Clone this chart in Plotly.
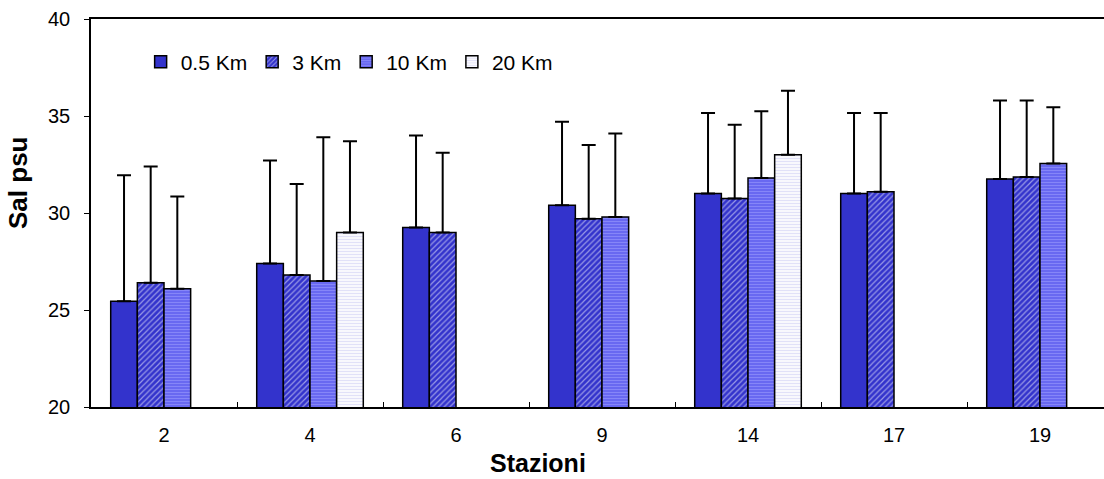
import plotly.graph_objects as go

stations = ["2", "4", "6", "9", "14", "17", "19"]

km05 = [25.45, 27.4, 29.25, 30.4, 31.0, 31.0, 31.75]
km05_err = [6.5, 5.3, 4.75, 4.3, 4.15, 4.15, 4.05]

km3 = [26.4, 26.8, 29.0, 29.7, 30.75, 31.1, 31.85]
km3_err = [6.0, 4.7, 4.1, 3.8, 3.8, 4.05, 3.95]

km10 = [26.1, 26.5, None, 29.8, 31.8, None, 32.55]
km10_err = [4.75, 7.4, 0, 4.3, 3.45, 0, 2.9]

km20 = [None, 29.0, None, None, 33.0, None, None]
km20_err = [0, 4.7, 0, 0, 3.3, 0, 0]

series_names = ["0.5 Km", "3 Km", "10 Km", "20 Km"]

FONT = "Arial, Liberation Sans, sans-serif"

styles = [
    dict(color="#3333CC", pattern=dict(shape="")),
    dict(color="#3333CC", pattern=dict(shape="/", fgcolor="#ffffff", bgcolor="#3333CC",
                                      size=4, solidity=0.3, fillmode="overlay")),
    dict(color="#6262F0", pattern=dict(shape="-", fgcolor="#aaaaff", bgcolor="#6262F0",
                                      size=3, solidity=0.45, fillmode="overlay")),
    dict(color="#ffffff", pattern=dict(shape="-", fgcolor="#c4c4f2", bgcolor="#ffffff",
                                      size=3, solidity=0.5, fillmode="overlay")),
]

fig = go.Figure()
for name, vals, errs, st in zip(series_names, [km05, km3, km10, km20],
                                [km05_err, km3_err, km10_err, km20_err], styles):
    fig.add_trace(go.Bar(
        name=name, x=stations, y=vals,
        marker=dict(color=st["color"], pattern=st["pattern"],
                    line=dict(color="black", width=1.5)),
        error_y=dict(type="data", symmetric=False, array=errs,
                     arrayminus=[0] * len(errs), color="black",
                     thickness=2, width=7),
    ))

fig.update_layout(
    width=1104, height=479,
    margin=dict(l=91, r=0, t=19, b=72),
    paper_bgcolor="white", plot_bgcolor="white",
    barmode="group", bargap=0.27, bargroupgap=0,
    font=dict(family=FONT, size=20, color="black"),
    showlegend=True,
    legend=dict(orientation="h", x=0.049, y=0.889, xanchor="left", yanchor="middle",
                font=dict(family=FONT, size=21, color="black"),
                bgcolor="rgba(0,0,0,0)", traceorder="normal"),
    xaxis=dict(type="category", range=[-0.5, -0.5 + 1013 / 146],
               showline=True, linecolor="black", linewidth=1.5, mirror=True,
               ticks="inside", ticklen=5, tickcolor="black", tickson="boundaries",
               showgrid=False, tickfont=dict(size=20), ticklabelstandoff=9),
    yaxis=dict(range=[20, 40], tickvals=[20, 25, 30, 35, 40],
               showline=True, linecolor="black", linewidth=1.5,
               ticks="outside", ticklen=5, tickcolor="black",
               showgrid=False, zeroline=False, tickfont=dict(size=20),
               ticklabelstandoff=10),
    annotations=[
        dict(text="<b>Sal psu</b>", x=(18 - 91) / 1013, y=(407 - 183) / 388,
             xref="paper", yref="paper", showarrow=False, textangle=-90,
             font=dict(family=FONT, size=26, color="black"),
             xanchor="center", yanchor="middle"),
        dict(text="<b>Stazioni</b>", x=(538 - 91) / 1013, y=(407 - 463) / 388,
             xref="paper", yref="paper", showarrow=False,
             font=dict(family=FONT, size=25, color="black"),
             xanchor="center", yanchor="middle", borderpad=0),
    ],
)

fig.write_html("out.html")
